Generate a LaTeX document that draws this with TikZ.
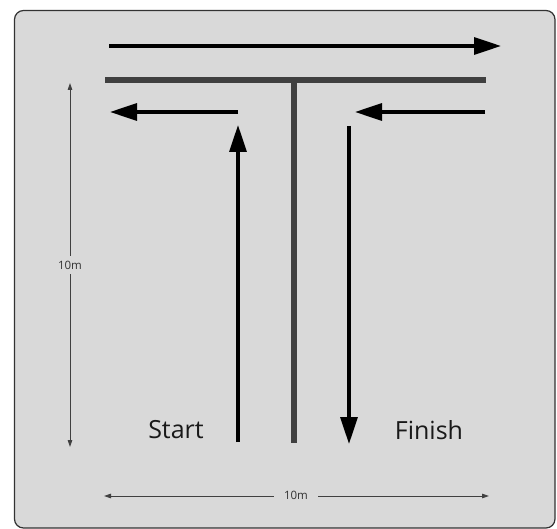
\documentclass[tikz,border=0pt]{standalone}
\usepackage{fontspec}
\setmainfont{Open Sans}
\usetikzlibrary{arrows.meta}
\definecolor{panel}{HTML}{D9D9D9}
\definecolor{tbar}{HTML}{404040}
\begin{document}
\begin{tikzpicture}[x=1pt,y=-1pt,
  mainarrow/.style={line width=3.2pt,-{Triangle[length=27pt,width=17pt]}},
  dimarrow/.style={line width=0.8pt,draw=black!75,{Triangle[length=7pt,width=4.5pt]}-{Triangle[length=7pt,width=4.5pt]}},
  tline/.style={line width=6pt,draw=tbar},
  bigtext/.style={font=\fontsize{25}{30}\selectfont,text=black!90,inner sep=0pt},
  dimtext/.style={font=\fontsize{11.5}{13}\selectfont,text=black!80,fill=panel,inner sep=3pt}]
\useasboundingbox (0,0) rectangle (557,529);
\fill[white] (0,0) rectangle (557,529);
\draw[fill=panel,draw=black!80,line width=1.2pt,rounded corners=9pt] (14.5,10.5) rectangle (555,528);
% coordinates
\coordinate (topL) at (109,46);
\coordinate (topR) at (501,46);
\coordinate (barL) at (105,80);
\coordinate (barR) at (486,80);
\coordinate (stemT) at (294,80);
\coordinate (stemB) at (294,443);
\coordinate (lS) at (238,112);
\coordinate (lE) at (110,112);
\coordinate (rS) at (485,112);
\coordinate (rE) at (355,112);
\coordinate (upS) at (238,442);
\coordinate (upE) at (238,125);
\coordinate (dnS) at (349,126);
\coordinate (dnE) at (349,444);
% T
\draw[tline] (barL) -- (barR);
\draw[tline] (stemT) -- (stemB);
% arrows
\draw[mainarrow] (topL) -- (topR);
\draw[mainarrow] (lS) -- (lE);
\draw[mainarrow] (rS) -- (rE);
\draw[mainarrow] (upS) -- (upE);
\draw[mainarrow] (dnS) -- (dnE);
% labels
\node[bigtext] (start) at (176,430) {Start};
\node[bigtext] (finish) at (429,430) {Finish};
% dimensions
\coordinate (vT) at (70,83);
\coordinate (vB) at (70,447);
\coordinate (hL) at (104,496);
\coordinate (hR) at (489,496);
\draw[dimarrow] (vT) -- (vB);
\draw[dimarrow] (hL) -- (hR);
\node[dimtext,inner ysep=5pt] (vlab) at (70,265) {10m};
\node[dimtext,inner xsep=10pt] (hlab) at (296,495) {10m};
\end{tikzpicture}
\end{document}
